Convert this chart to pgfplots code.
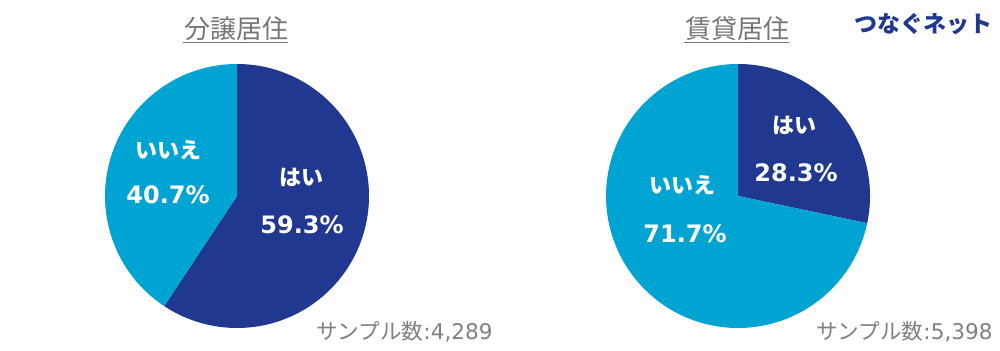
\documentclass[border=0pt]{standalone}
\usepackage{pgfplots}
\pgfplotsset{compat=1.18}
\usepackage{fontspec}
\setmainfont{DejaVu Sans}
\newfontfamily\jp{Noto Sans CJK JP}
\definecolor{dblue}{RGB}{32,56,144}
\definecolor{lblue}{RGB}{0,164,211}
\definecolor{tgray}{RGB}{118,118,118}
\definecolor{sgray}{RGB}{128,128,128}
\begin{document}
\begin{tikzpicture}
\path[use as bounding box] (0,0) rectangle (500pt,-175.5pt);
% left pie: 分譲居住  はい 59.3 / いいえ 40.7
\begin{axis}[at={(118.5pt,-98pt)}, anchor=center, width=132pt, height=132pt,
  scale only axis, hide axis, clip=false, xmin=-1, xmax=1, ymin=-1, ymax=1]
\addplot[fill=dblue, draw=none, domain=0:59.3*3.6, samples=150, variable=\t]
  ({sin(\t)},{cos(\t)}) -- (axis cs:0,0) -- cycle;
\addplot[fill=lblue, draw=none, domain=59.3*3.6:360, samples=150, variable=\t]
  ({sin(\t)},{cos(\t)}) -- (axis cs:0,0) -- cycle;
\end{axis}
% right pie: 賃貸居住  はい 28.3 / いいえ 71.7
\begin{axis}[at={(369pt,-98pt)}, anchor=center, width=132pt, height=132pt,
  scale only axis, hide axis, clip=false, xmin=-1, xmax=1, ymin=-1, ymax=1]
\addplot[fill=dblue, draw=none, domain=0:28.3*3.6, samples=150, variable=\t]
  ({sin(\t)},{cos(\t)}) -- (axis cs:0,0) -- cycle;
\addplot[fill=lblue, draw=none, domain=28.3*3.6:360, samples=150, variable=\t]
  ({sin(\t)},{cos(\t)}) -- (axis cs:0,0) -- cycle;
\end{axis}
\begin{scope}[x=0.5pt, y=-0.5pt]
% titles
\node[tgray, font=\jp\fontsize{13}{13}\selectfont, inner sep=0pt] at (236,29) {分譲居住};
\draw[tgray, line width=0.7pt] (183,42.5) -- (288,42.5);
\node[tgray, font=\jp\fontsize{13}{13}\selectfont, inner sep=0pt] at (737,29) {賃貸居住};
\draw[tgray, line width=0.7pt] (684,42.5) -- (789,42.5);
% logo
\node[dblue, font=\jp\bfseries\fontsize{11.5}{11.5}\selectfont, inner sep=0pt] at (923,24) {つなぐネット};
% labels left
\node[white, font=\jp\bfseries\fontsize{11}{11}\selectfont, inner sep=0pt] at (168,150) {いいえ};
\node[white, font=\bfseries\fontsize{12}{12}\selectfont, inner sep=0pt] at (168,195) {40.7\%};
\node[white, font=\jp\bfseries\fontsize{11}{11}\selectfont, inner sep=0pt] at (301,177) {はい};
\node[white, font=\bfseries\fontsize{12}{12}\selectfont, inner sep=0pt] at (302,225) {59.3\%};
% labels right
\node[white, font=\jp\bfseries\fontsize{11}{11}\selectfont, inner sep=0pt] at (794,125) {はい};
\node[white, font=\bfseries\fontsize{12}{12}\selectfont, inner sep=0pt] at (796,173) {28.3\%};
\node[white, font=\jp\bfseries\fontsize{11}{11}\selectfont, inner sep=0pt] at (682,185) {いいえ};
\node[white, font=\bfseries\fontsize{12}{12}\selectfont, inner sep=0pt] at (685,234) {71.7\%};
% sample counts
\node[sgray, font=\fontsize{10.8}{10.8}\selectfont, inner sep=0pt, anchor=east] at (493,332) {{\jp サンプル数}:4,289};
\node[sgray, font=\fontsize{10.8}{10.8}\selectfont, inner sep=0pt, anchor=east] at (993,332) {{\jp サンプル数}:5,398};
\end{scope}
\end{tikzpicture}
\end{document}
